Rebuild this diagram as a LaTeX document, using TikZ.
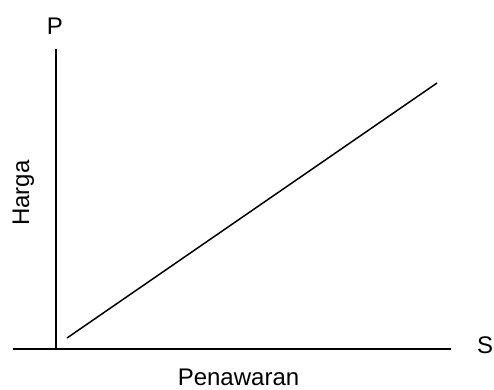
\documentclass[tikz,border=0pt]{standalone}
\usepackage{fontspec}
\setmainfont{Liberation Sans}
\begin{document}
\begin{tikzpicture}[x = 1bp, y = 1bp, line width = 1.5bp,
        lbl/.style = {inner sep = 0pt, anchor = base, font = \fontsize{24bp}{28bp}\selectfont}]
        \useasboundingbox (0, 0) rectangle (494, 389);
        \coordinate (o) at (56, 40);
        \coordinate (ytop) at (56, 340);
        \coordinate (xleft) at (13, 40);
        \coordinate (xright) at (451, 40);
        \coordinate (s1) at (67, 51);
        \coordinate (s2) at (437, 306);
        \node[lbl] (p) at (55, 355) {P};
        \node[lbl] (s) at (485, 36) {S};
        \node[lbl] (penawaran) at (238.5, 4) {Penawaran};
        \node[lbl, rotate = 90] (harga) at (29, 196) {Harga};
        \draw (o) -- (ytop);
        \draw (xleft) -- (xright);
        \draw (s1) -- (s2);
    \end{tikzpicture}
\end{document}
